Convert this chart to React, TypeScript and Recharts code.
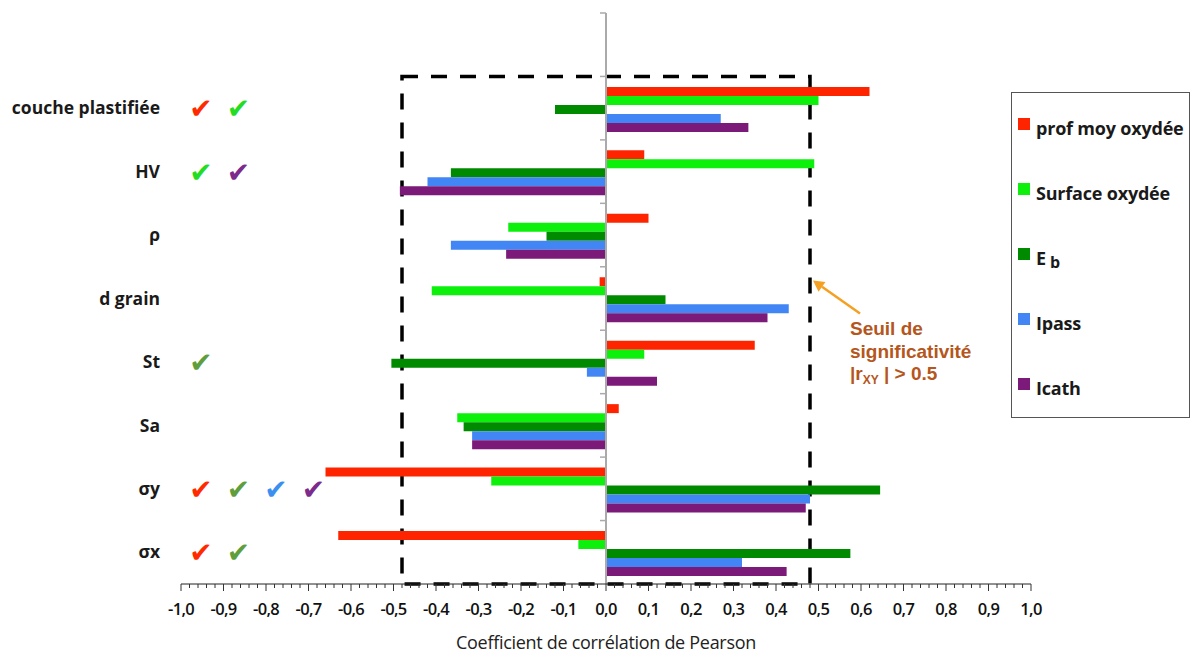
import React from 'react';
import { BarChart, Bar, XAxis, YAxis, ReferenceArea, ReferenceLine, ReferenceDot, Legend } from 'recharts';

// top row is left empty in the original chart
const categories = ['', 'couche plastifiée', 'HV', 'ρ', 'd grain', 'St', 'Sa', 'σy', 'σx'];

const profMoyOxydee = [null, 0.62, 0.09, 0.10, -0.015, 0.35, 0.03, -0.66, -0.63];
const surfaceOxydee = [null, 0.50, 0.49, -0.23, -0.41, 0.09, -0.35, -0.27, -0.065];
const eb = [null, -0.12, -0.365, -0.14, 0.14, -0.505, -0.335, 0.645, 0.575];
const ipass = [null, 0.27, -0.42, -0.365, 0.43, -0.045, -0.315, 0.48, 0.32];
const icath = [null, 0.335, -0.485, -0.235, 0.38, 0.12, -0.315, 0.47, 0.425];

const seriesNames = ['prof moy oxydée', 'Surface oxydée', 'Eb', 'Ipass', 'Icath'];
const seriesColors = ['#ff2400', '#0cf00c', '#008a00', '#4285f4', '#7b1a78'];

const checkColors: Record<string, string> = {
  red: '#ff2a00',
  lime: '#22dd22',
  olive: '#5e9e3c',
  blue: '#3b8ff0',
  purple: '#7c2a8c',
};
const checks: Record<string, string[]> = {
  'couche plastifiée': ['red', 'lime'],
  HV: ['lime', 'purple'],
  St: ['olive'],
  'σy': ['red', 'olive', 'blue', 'purple'],
  'σx': ['red', 'olive'],
};

const threshold = 0.48;
const minorTicks = Array.from({ length: 101 }, (_, i) => Math.round((-1 + i * 0.02) * 100) / 100);

const data = categories.map((name, i) => ({
  name,
  prof: profMoyOxydee[i],
  surf: surfaceOxydee[i],
  eb: eb[i],
  ipass: ipass[i],
  icath: icath[i],
}));
const keys = ['prof', 'surf', 'eb', 'ipass', 'icath'];

const font = "'Open Sans', sans-serif";

const fmt = (v: number) => (Math.round(v * 10) / 10).toFixed(1).replace('.', ',');

const XTick = (props: any) => {
  const { x, y, payload } = props;
  const v = payload.value;
  const major = Math.round(v * 50) % 5 === 0;
  return (
    <g>
      <line x1={x} x2={x} y1={y} y2={y + (major ? 7 : 4)} stroke="#333" strokeWidth={1} />
      {major && (
        <text x={x} y={y + 31} textAnchor="middle" fontFamily={font} fontSize={16.5} fontWeight={600} fill="#111" letterSpacing={-0.7}>
          {fmt(v)}
        </text>
      )}
    </g>
  );
};

const CatTick = (props: any) => {
  const { x, y, payload } = props;
  const marks = checks[payload.value] || [];
  return (
    <g>
      <text x={x - 21} y={y} dy="0.35em" textAnchor="end" fontFamily={font} fontSize={17.5} fontWeight={700} fill="#1a1a1a">
        {payload.value}
      </text>
      {marks.map((c, k) => (
        <text key={k} x={x + 20 + k * 37.5} y={y} dy="0.36em" textAnchor="middle" fontFamily="'DejaVu Sans'" fontSize={28} fill={checkColors[c]}>
          ✔
        </text>
      ))}
    </g>
  );
};

const ZeroAxis = (props: any) => {
  const { x1, y1, y2 } = props;
  const top = Math.min(y1, y2);
  const bottom = Math.max(y1, y2);
  const step = (bottom - top) / categories.length;
  return (
    <g>
      <line x1={x1} x2={x1} y1={top} y2={bottom} stroke="#aaa" strokeWidth={2} />
      {categories.map((_, k) => (
        <line key={k} x1={x1 - 6} x2={x1} y1={top + k * step} y2={top + k * step} stroke="#aaa" strokeWidth={1.5} />
      ))}
    </g>
  );
};

const Annotation = (props: any) => {
  const { cx, cy } = props;
  const tip = { x: cx + 3, y: cy - 18 };
  const tail = { x: cx + 50, y: cy + 15 };
  const dx = tip.x - tail.x;
  const dy = tip.y - tail.y;
  const len = Math.hypot(dx, dy);
  const ux = dx / len;
  const uy = dy / len;
  const back = { x: tip.x - ux * 11, y: tip.y - uy * 11 };
  const head = `${tip.x},${tip.y} ${back.x - uy * 6},${back.y + ux * 6} ${back.x + uy * 6},${back.y - ux * 6}`;
  const col = '#b5561c';
  return (
    <g>
      <line x1={tail.x} y1={tail.y} x2={back.x} y2={back.y} stroke="#f5a020" strokeWidth={2.5} />
      <polygon points={head} fill="#f5a020" />
      <g fontFamily="'Liberation Sans', Arial, sans-serif" fontWeight={700} fontSize={19} fill={col}>
        <text x={cx + 40} y={cy + 36}>Seuil de</text>
        <text x={cx + 40} y={cy + 59}>significativité</text>
        <text x={cx + 40} y={cy + 81}>
          |r<tspan fontSize={12} dy={4}>XY</tspan>
          <tspan dy={-4}> | &gt; 0.5</tspan>
        </text>
      </g>
    </g>
  );
};

const renderLegend = () => (
  <div
    style={{
      boxSizing: 'border-box',
      width: 179,
      height: 326,
      border: '1.5px solid #555',
      paddingTop: 2,
      paddingLeft: 6,
      fontFamily: font,
      fontWeight: 700,
      fontSize: 18,
      color: '#1a1a1a',
      background: '#fff',
    }}
  >
    {seriesNames.map((name, i) => (
      <div key={name} style={{ height: 65, display: 'flex', alignItems: 'center', whiteSpace: 'nowrap', letterSpacing: -0.2 }}>
        <span style={{ width: 12, height: 12, background: seriesColors[i], display: 'inline-block', marginRight: 6, marginTop: -8, flex: 'none' }} />
        {name === 'Eb' ? (
          <span>
            E<span style={{ position: 'relative', top: 3, marginLeft: 4, fontSize: 16 }}>b</span>
          </span>
        ) : (
          <span>{name}</span>
        )}
      </div>
    ))}
  </div>
);

export default function App() {
  return (
    <div style={{ position: 'absolute', left: 0, top: 0, background: '#fff' }}>
      <BarChart
        width={1192}
        height={655}
        data={data}
        layout="vertical"
        margin={{ top: 13, right: 161, bottom: 0, left: 0 }}
        barCategoryGap="16.5%"
        barGap={0}
      >
        <XAxis
          type="number"
          domain={[-1, 1]}
          ticks={minorTicks}
          interval={0}
          height={71}
          tickSize={0}
          tickMargin={0}
          tickLine={false}
          axisLine={{ stroke: '#222', strokeWidth: 1 }}
          tick={<XTick />}
          allowDataOverflow
          label={{ value: 'Coefficient de corrélation de Pearson', position: 'insideBottom', offset: 6, fill: '#222', fontSize: 18, fontFamily: font, letterSpacing: -0.3 }}
        />
        <YAxis
          type="category"
          dataKey="name"
          width={181}
          interval={0}
          axisLine={false}
          tickLine={false}
          tickSize={0}
          tickMargin={0}
          tick={<CatTick />}
        />
        {keys.map((k, i) => (
          <Bar key={k} dataKey={k} name={seriesNames[i]} fill={seriesColors[i]} isAnimationActive={false} />
        ))}
        <ReferenceLine x={0} shape={<ZeroAxis />} />
        <ReferenceArea
          x1={-threshold}
          x2={threshold}
          y1="couche plastifiée"
          y2="σx"
          fill="none"
          fillOpacity={0}
          stroke="#000"
          strokeWidth={3.5}
          strokeDasharray="16 13"
        />
        <ReferenceDot x={threshold} y="d grain" r={0} shape={<Annotation />} />
        <Legend
          layout="vertical"
          align="center"
          verticalAlign="middle"
          content={renderLegend}
          wrapperStyle={{ position: 'absolute', left: 1011, top: 92, width: 179, height: 326 }}
        />
      </BarChart>
    </div>
  );
}
